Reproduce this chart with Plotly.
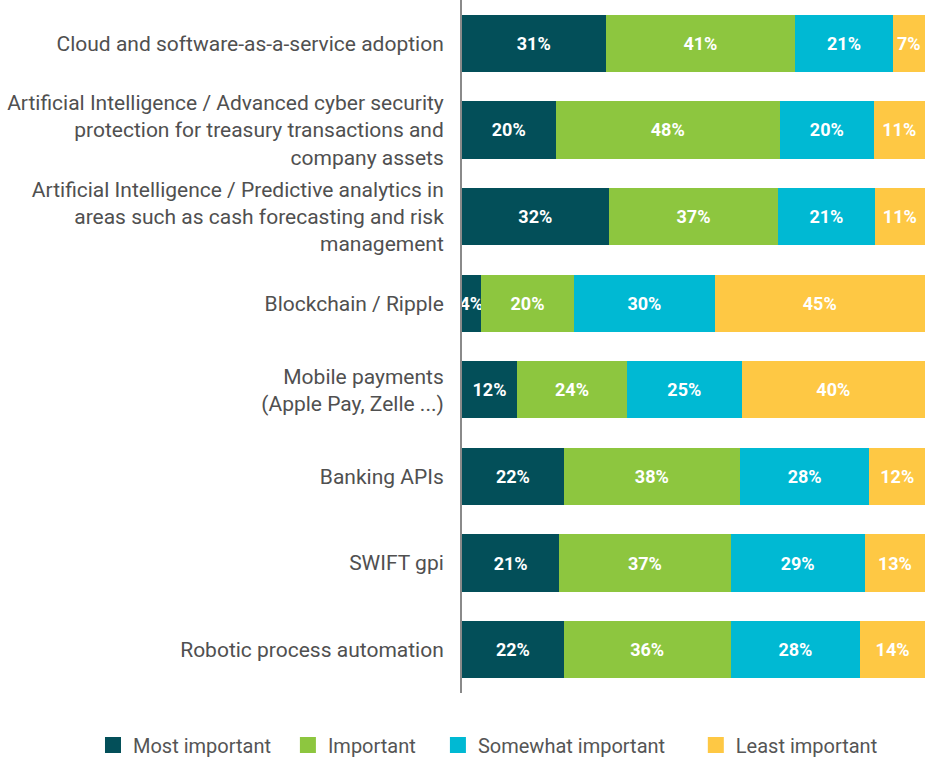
import plotly.graph_objects as go

categories = [
    "Cloud and software-as-a-service adoption",
    "Artificial Intelligence / Advanced cyber security<br>protection for treasury transactions and<br>company assets",
    "Artificial Intelligence / Predictive analytics in<br>areas such as cash forecasting and risk<br>management",
    "Blockchain / Ripple",
    "Mobile payments<br>(Apple Pay, Zelle ...)",
    "Banking APIs",
    "SWIFT gpi",
    "Robotic process automation",
]

most_important = [31, 20, 32, 4, 12, 22, 21, 22]
important = [41, 48, 37, 20, 24, 38, 37, 36]
somewhat_important = [21, 20, 21, 30, 25, 28, 29, 28]
least_important = [7, 11, 11, 45, 40, 12, 13, 14]

series = [
    ("Most important", most_important, "#034f59", "legend", -0.797),
    ("Important", important, "#8dc63f", "legend2", -0.376),
    ("Somewhat important", somewhat_important, "#00b9d3", "legend3", -0.052),
    ("Least important", least_important, "#fec844", "legend4", 0.505),
]

fig = go.Figure()
legends = {}
for name, vals, color, lg, lx in series:
    fig.add_trace(go.Bar(
        y=categories, x=vals, orientation="h", name=name,
        marker=dict(color=color, line=dict(width=0)),
        text=[f"{v}%" for v in vals],
        textposition="inside", insidetextanchor="middle", textangle=0,
        textfont=dict(color="white", size=18, family="Roboto", weight="bold"),
        showlegend=False,
    ))
    # square legend swatch, one legend per item to match spacing
    fig.add_trace(go.Scatter(
        x=[None], y=[None], mode="markers", name=name, legend=lg,
        marker=dict(symbol="square", size=20, color=color),
    ))
    legends[lg] = dict(orientation="h", x=lx, xanchor="left", y=-0.047, yanchor="top",
                       font=dict(size=20, color="#555555"), itemwidth=30)

fig.update_layout(
    width=925, height=760,
    barmode="stack", barnorm="percent", bargap=0.34,
    margin=dict(l=462, r=0, t=0, b=67, autoexpand=False),
    paper_bgcolor="white", plot_bgcolor="white",
    font=dict(family="Roboto", size=21, color="#505050"),
    uniformtext=dict(minsize=18, mode="show"),
    **legends,
)
fig.update_xaxes(visible=False, range=[0, 100])
fig.update_yaxes(autorange="reversed", showline=True, linecolor="#8a8a8a", linewidth=2,
                 ticks="", ticklabelstandoff=12, showgrid=False)

fig.write_html("out.html", config={"displayModeBar": False},
               post_script="document.body.style.margin='0';")
